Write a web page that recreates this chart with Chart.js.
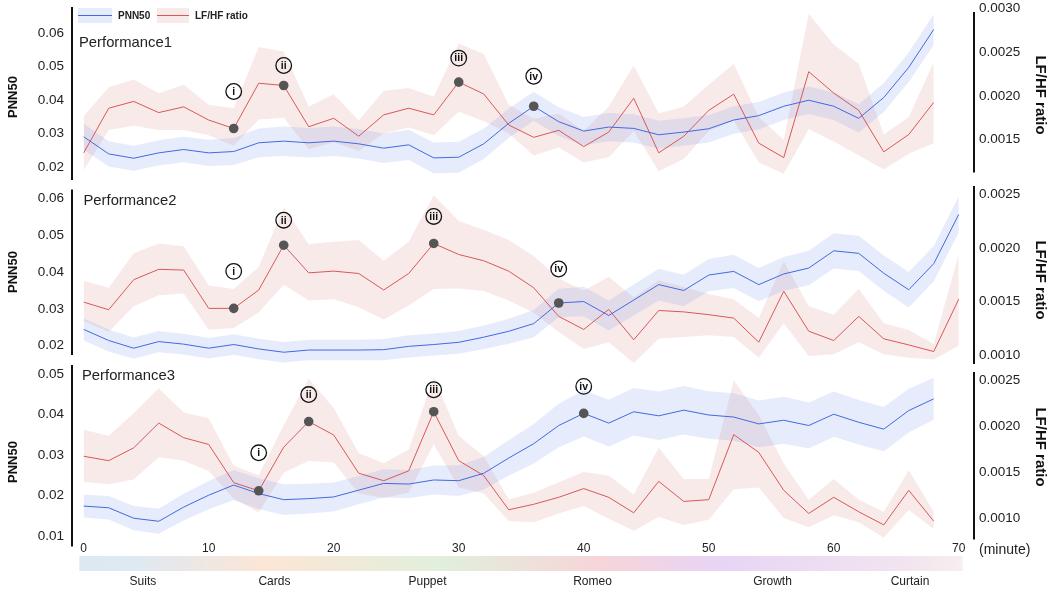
<!DOCTYPE html>
<html>
<head>
<meta charset="utf-8">
<script src="https://cdn.jsdelivr.net/npm/chart.js@4.4.1/dist/chart.umd.min.js"></script>
<style>
  body { margin: 0; background: #fff; }
  #wrap { position: relative; width: 1061px; height: 592px; }
  #wrap canvas { position: absolute; left: 0; }
</style>
</head>
<body>
<div id="wrap">
  <canvas id="p1" width="1061" height="183" style="top:0;width:1061px;height:183px"></canvas>
  <canvas id="p2" width="1061" height="182" style="top:183px;width:1061px;height:182px"></canvas>
  <canvas id="p3" width="1061" height="227" style="top:365px;width:1061px;height:227px"></canvas>
</div>
<script>
// time axis (minutes), one sample every 2 min
const minutes = [0,2,4,6,8,10,12,14,16,18,20,22,24,26,28,30,32,34,36,38,40,42,44,46,48,50,52,54,56,58,60,62,64,66,68,70];
const xTicks = [0,10,20,30,40,50,60,70];

// Performance1
const p1Pnn = [0.0291,0.0240,0.0227,0.0243,0.0253,0.0243,0.0247,0.0273,0.0278,0.0273,0.0278,0.0270,0.0257,0.0267,0.0228,0.0230,0.0270,0.0331,0.0382,0.0336,0.0308,0.0320,0.0316,0.0297,0.0305,0.0315,0.0341,0.0354,0.0382,0.0400,0.0382,0.0346,0.0408,0.0498,0.0611];
const p1PnnCi = [0.0039,0.0038,0.0037,0.0038,0.0038,0.0039,0.0040,0.0043,0.0044,0.0044,0.0044,0.0044,0.0044,0.0045,0.0046,0.0046,0.0045,0.0044,0.0043,0.0043,0.0042,0.0042,0.0042,0.0042,0.0041,0.0041,0.0041,0.0041,0.0041,0.0041,0.0041,0.0042,0.0043,0.0044,0.0046];
const p1Lf = [0.00135,0.00186,0.001938,0.00181,0.001876,0.001725,0.001628,0.002146,0.00212,0.001648,0.001745,0.00154,0.001784,0.00186,0.001784,0.002159,0.002023,0.001668,0.001527,0.001607,0.001421,0.001587,0.001974,0.00135,0.001539,0.001835,0.002021,0.001461,0.001295,0.002278,0.002033,0.001835,0.001361,0.001559,0.001927];
const p1LfHigh = [0.00177,0.0021,0.00219,0.00203,0.00213,0.0019,0.00186,0.00256,0.00251,0.00188,0.00202,0.00172,0.00206,0.00209,0.00199,0.0026,0.00248,0.0019,0.00174,0.0018,0.0016,0.00188,0.00235,0.0018,0.00188,0.00213,0.00237,0.00176,0.0015,0.00294,0.00259,0.00237,0.00156,0.00176,0.00239];
const p1LfLow = [0.00115,0.00161,0.00166,0.00161,0.00161,0.00155,0.00143,0.00173,0.00175,0.00139,0.00147,0.00137,0.00157,0.00164,0.00155,0.00182,0.00171,0.00157,0.00132,0.00141,0.00124,0.0013,0.0016,0.00114,0.00128,0.0016,0.00172,0.00124,0.00111,0.00162,0.00148,0.00132,0.00116,0.00134,0.00146];
const p1MarkIdx = [6, 8, 15, 18];

// Performance2
const p2Pnn = [0.0244,0.0214,0.0193,0.0211,0.0204,0.0193,0.0203,0.0191,0.0182,0.0188,0.0188,0.0188,0.0189,0.0198,0.0203,0.0209,0.0223,0.0239,0.0260,0.0316,0.0320,0.0282,0.0324,0.0366,0.0350,0.0392,0.0402,0.0366,0.0395,0.0411,0.0458,0.0451,0.0397,0.0352,0.0423,0.0557];
const p2PnnCi = [0.0030,0.0030,0.0029,0.0029,0.0028,0.0028,0.0028,0.0028,0.0028,0.0028,0.0028,0.0028,0.0029,0.0030,0.0030,0.0031,0.0032,0.0034,0.0037,0.0039,0.0040,0.0041,0.0042,0.0043,0.0043,0.0044,0.0045,0.0045,0.0046,0.0047,0.0048,0.0048,0.0048,0.0048,0.0048,0.0049];
const p2Lf = [0.001496,0.001425,0.001705,0.001802,0.001795,0.001438,0.001438,0.001609,0.002027,0.001769,0.001785,0.001763,0.001609,0.001763,0.002043,0.00194,0.001882,0.001785,0.00163,0.001363,0.001241,0.001428,0.001145,0.001418,0.001405,0.001379,0.001347,0.001122,0.001598,0.001225,0.001138,0.001363,0.001154,0.001097,0.001035,0.001524];
const p2LfHigh = [0.001696,0.001631,0.001952,0.002043,0.002017,0.00165,0.001618,0.001824,0.002381,0.002036,0.002059,0.002075,0.001882,0.002059,0.002493,0.002252,0.002172,0.002075,0.001927,0.001717,0.001604,0.001733,0.00154,0.001701,0.001637,0.001572,0.001524,0.001347,0.001878,0.001459,0.001379,0.001621,0.0013,0.001235,0.001106,0.001942];
const p2LfLow = [0.00132,0.00122,0.001457,0.00156,0.001576,0.001238,0.001255,0.001399,0.001657,0.001512,0.001522,0.001448,0.001335,0.001464,0.001618,0.001624,0.001599,0.001512,0.001396,0.001218,0.001058,0.001122,0.000929,0.001154,0.00117,0.001186,0.00117,0.000977,0.0013,0.000993,0.00101,0.001122,0.00101,0.000977,0.000961,0.00109];
const p2MarkIdx = [6, 8, 14, 19];

// Performance3
const p3Pnn = [0.01736,0.01694,0.01435,0.01359,0.01711,0.02005,0.02256,0.02045,0.01894,0.0192,0.01962,0.0213,0.02297,0.02281,0.02382,0.02364,0.02548,0.02925,0.0328,0.0373,0.0403,0.0379,0.0407,0.0397,0.0411,0.0399,0.0394,0.0377,0.0386,0.0373,0.0401,0.0381,0.0364,0.0410,0.0439];
const p3PnnCi = [0.0028,0.0029,0.0030,0.0031,0.0033,0.0035,0.0037,0.0038,0.0038,0.0037,0.0036,0.0035,0.0035,0.0035,0.0036,0.0038,0.0040,0.0044,0.0049,0.0054,0.0057,0.0058,0.0059,0.0060,0.0060,0.0059,0.0059,0.0058,0.0058,0.0057,0.0056,0.0055,0.0055,0.0054,0.0052];
const p3Lf = [0.001674,0.001626,0.001766,0.002036,0.001876,0.001803,0.001386,0.001297,0.001773,0.002053,0.001906,0.001489,0.001407,0.001515,0.00216,0.001626,0.001463,0.00109,0.00115,0.001226,0.001321,0.001226,0.001057,0.0014,0.001181,0.0012,0.00191,0.001717,0.001302,0.00105,0.001226,0.001068,0.000925,0.001302,0.000966];
const p3LfHigh = [0.001963,0.001899,0.002144,0.002416,0.002151,0.002088,0.001571,0.001466,0.002012,0.002521,0.002201,0.00171,0.001597,0.001748,0.00254,0.001899,0.001673,0.001201,0.001276,0.001389,0.001502,0.001464,0.001257,0.001766,0.001426,0.001426,0.002501,0.002124,0.001596,0.0012,0.001426,0.0012,0.001068,0.00152,0.001068];
const p3LfLow = [0.001392,0.001369,0.001419,0.001663,0.001626,0.001513,0.001211,0.001061,0.001494,0.001626,0.001607,0.001268,0.001219,0.001279,0.001805,0.001332,0.001268,0.000967,0.000955,0.00105,0.001132,0.000993,0.000861,0.001011,0.000925,0.000982,0.001313,0.001332,0.001,0.000898,0.001031,0.000955,0.000785,0.001087,0.00088];
const p3MarkIdx = [7, 9, 14, 20];

// markers: first three sit on LF/HF, the last on PNN50
const markLabels = ['i', 'ii', 'iii', 'iv'];
const markOn = ['lf', 'lf', 'lf', 'pnn'];

// axis ticks
const pnnTicksA = [0.02, 0.03, 0.04, 0.05, 0.06];
const pnnTicksB = [0.01, 0.02, 0.03, 0.04, 0.05];
const lfTicksA = [0.0015, 0.0020, 0.0025, 0.0030];
const lfTicksB = [0.0010, 0.0015, 0.0020, 0.0025];

// scenes under the time axis
const sceneNames = ['Suits', 'Cards', 'Puppet', 'Romeo', 'Growth', 'Curtain'];
const sceneAt = [4.74, 15.26, 27.5, 40.7, 55.1, 66.1];
const barStops = [-0.35, 3.7, 14.5, 28.5, 41.3, 50.7, 65.3, 70.3];
const barColors = ['#dde9f2', '#dde9f3', '#fce6d6', '#e1efdc', '#f7d5d9', '#e8d4f5', '#f1e4f0', '#f7eeee'];

const BLUE = '#4169e1';
const BLUE_BAND = 'rgba(65,105,225,0.13)';
const RED = '#d95757';
const RED_BAND = 'rgba(205,92,92,0.13)';
const FONT = 'Arial, "Liberation Sans", sans-serif';
const X_MIN = -0.936, X_MAX = 71.22;

Chart.defaults.font.family = FONT;
Chart.defaults.color = '#222';

const panels = [
  { id: 'p1', name: 'Performance1', pnn: p1Pnn, ci: p1PnnCi, lf: p1Lf, hi: p1LfHigh, lo: p1LfLow, marks: p1MarkIdx,
    yRange: [0.01621, 0.0678], y1Range: [0.001039, 0.003018], yTicks: pnnTicksA, y1Ticks: lfTicksA,
    spineL: [0.0678, 0.01621], spineR: [0.00296, 0.001125],
    pad: { top: 7, bottom: 3 }, nameAt: [79, 43], titleL: 97, titleR: 95, labelGap: [37, 20, 24, 30],
    legend: true, showX: false },
  { id: 'p2', name: 'Performance2', pnn: p2Pnn, ci: p2PnnCi, lf: p2Lf, hi: p2LfHigh, lo: p2LfLow, marks: p2MarkIdx,
    yRange: [0.0150, 0.06343], y1Range: [0.000919, 0.002579], yTicks: pnnTicksA, y1Ticks: lfTicksB,
    spineL: [0.06248, 0.01744], spineR: [0.002579, 0.000919],
    pad: { top: 3, bottom: 1 }, nameAt: [83.5, 18], titleL: 89, titleR: 97, labelGap: [37, 25, 27, 34],
    legend: false, showX: false },
  { id: 'p3', name: 'Performance3', pnn: p3Pnn, ci: p3PnnCi, lf: p3Lf, hi: p3LfHigh, lo: p3LfLow, marks: p3MarkIdx,
    yRange: [0.00896, 0.05228], y1Range: [0.00076, 0.00267], yTicks: pnnTicksB, y1Ticks: lfTicksB,
    spineL: [0.05228, 0.00733], spineR: [0.002594, 0.000766],
    pad: { top: 0, bottom: 0 }, nameAt: [82, 10.5], titleL: 97, titleR: 82, labelGap: [38, 27, 22, 27],
    legend: false, showX: true }
];

function pts(arr) {
  return arr.map((v, i) => ({ x: minutes[i], y: v }));
}

function overlay(p) {
  return {
    id: 'overlay',
    afterDatasetsDraw(chart) {
      const { ctx, chartArea: a, scales } = chart;
      ctx.save();
      // spines
      ctx.strokeStyle = '#111';
      ctx.lineWidth = 2;
      ctx.beginPath();
      ctx.moveTo(a.left, scales.y.getPixelForValue(p.spineL[0]));
      ctx.lineTo(a.left, scales.y.getPixelForValue(p.spineL[1]));
      ctx.moveTo(a.right, scales.y1.getPixelForValue(p.spineR[0]));
      ctx.lineTo(a.right, scales.y1.getPixelForValue(p.spineR[1]));
      ctx.stroke();

      // marker dots and circled numerals
      p.marks.forEach((idx, k) => {
        const onLf = markOn[k] === 'lf';
        const px = scales.x.getPixelForValue(minutes[idx]);
        const py = onLf ? scales.y1.getPixelForValue(p.lf[idx]) : scales.y.getPixelForValue(p.pnn[idx]);
        ctx.fillStyle = '#555';
        ctx.beginPath();
        ctx.arc(px, py, 4.8, 0, Math.PI * 2);
        ctx.fill();
        const ly = py - p.labelGap[k];
        ctx.strokeStyle = '#111';
        ctx.lineWidth = 1.3;
        ctx.beginPath();
        ctx.arc(px, ly, 7.8, 0, Math.PI * 2);
        ctx.stroke();
        ctx.fillStyle = '#111';
        ctx.font = 'bold 10.5px ' + FONT;
        ctx.textAlign = 'center';
        ctx.textBaseline = 'middle';
        ctx.fillText(markLabels[k], px, ly + 0.5);
      });

      // panel name
      ctx.fillStyle = '#222';
      ctx.font = '14.8px ' + FONT;
      ctx.textAlign = 'left';
      ctx.textBaseline = 'middle';
      ctx.fillText(p.name, p.nameAt[0], p.nameAt[1]);

      // axis titles
      ctx.fillStyle = '#111';
      ctx.textAlign = 'center';
      ctx.save();
      ctx.translate(13.5, p.titleL);
      ctx.rotate(-Math.PI / 2);
      ctx.font = 'bold 13px ' + FONT;
      ctx.fillText('PNN50', 0, 0);
      ctx.restore();
      ctx.save();
      ctx.translate(1040, p.titleR);
      ctx.rotate(Math.PI / 2);
      ctx.font = 'bold 15px ' + FONT;
      ctx.fillText('LF/HF ratio', 0, 0);
      ctx.restore();

      if (p.legend) {
        ctx.font = '600 10px ' + FONT;
        ctx.textAlign = 'left';
        ctx.fillStyle = BLUE_BAND;
        ctx.fillRect(78, 8, 34, 15);
        ctx.fillStyle = RED_BAND;
        ctx.fillRect(157, 8, 32, 15);
        ctx.lineWidth = 1;
        ctx.strokeStyle = BLUE;
        ctx.beginPath(); ctx.moveTo(78, 15.5); ctx.lineTo(112, 15.5); ctx.stroke();
        ctx.strokeStyle = RED;
        ctx.beginPath(); ctx.moveTo(157, 15.5); ctx.lineTo(189, 15.5); ctx.stroke();
        ctx.fillStyle = '#222';
        ctx.fillText('PNN50', 118, 16);
        ctx.fillText('LF/HF ratio', 195, 16);
      }

      if (p.showX) {
        const x = scales.x;
        const top = a.bottom + 16;
        const x0 = x.getPixelForValue(barStops[0]);
        const x1 = x.getPixelForValue(barStops[barStops.length - 1]);
        const g = ctx.createLinearGradient(x0, 0, x1, 0);
        barStops.forEach((m, i) => g.addColorStop((m - barStops[0]) / (barStops[barStops.length - 1] - barStops[0]), barColors[i]));
        ctx.fillStyle = g;
        ctx.fillRect(x0, top, x1 - x0, 15);
        ctx.fillStyle = '#222';
        ctx.font = '12px ' + FONT;
        ctx.textAlign = 'center';
        sceneNames.forEach((s, i) => ctx.fillText(s, x.getPixelForValue(sceneAt[i]), top + 26));
        ctx.font = '14px ' + FONT;
        ctx.textAlign = 'left';
        ctx.fillText('(minute)', a.right + 5, a.bottom + 10);
      }
      ctx.restore();
    }
  };
}

panels.forEach(p => {
  const pnnLow = p.pnn.map((v, i) => v - p.ci[i]);
  const pnnHigh = p.pnn.map((v, i) => v + p.ci[i]);
  const hidden = { borderColor: 'rgba(0,0,0,0)', borderWidth: 0, pointRadius: 0 };
  new Chart(document.getElementById(p.id), {
    type: 'line',
    data: {
      datasets: [
        { label: 'PNN50', data: pts(p.pnn), yAxisID: 'y', borderColor: BLUE, borderWidth: 1, pointRadius: 0, fill: false },
        { label: 'LF/HF ratio', data: pts(p.lf), yAxisID: 'y1', borderColor: RED, borderWidth: 1, pointRadius: 0, fill: false },
        Object.assign({ data: pts(pnnLow), yAxisID: 'y', fill: false }, hidden),
        Object.assign({ data: pts(pnnHigh), yAxisID: 'y', fill: '-1', backgroundColor: BLUE_BAND }, hidden),
        Object.assign({ data: pts(p.lo), yAxisID: 'y1', fill: false }, hidden),
        Object.assign({ data: pts(p.hi), yAxisID: 'y1', fill: '-1', backgroundColor: RED_BAND }, hidden)
      ]
    },
    options: {
      responsive: false,
      animation: false,
      events: [],
      layout: { autoPadding: false, padding: { left: 0, right: 0, top: p.pad.top, bottom: p.pad.bottom } },
      plugins: { legend: { display: false }, tooltip: { enabled: false } },
      scales: {
        x: {
          type: 'linear', min: X_MIN, max: X_MAX, display: p.showX,
          grid: { display: false, drawTicks: false }, border: { display: false },
          ticks: { font: { size: 12 }, color: '#222', padding: 1, maxRotation: 0, autoSkip: false },
          afterBuildTicks: s => { s.ticks = xTicks.map(v => ({ value: v })); },
          afterFit: s => { s.height = p.showX ? 52 : 0; s.paddingLeft = 0; s.paddingRight = 0; }
        },
        y: {
          position: 'left', min: p.yRange[0], max: p.yRange[1],
          grid: { display: false, drawTicks: false }, border: { display: false },
          ticks: { font: { size: 13.5 }, color: '#222', padding: 8, callback: v => v.toFixed(2) },
          afterBuildTicks: s => { s.ticks = p.yTicks.map(v => ({ value: v })); },
          afterFit: s => { s.width = 72; s.paddingTop = 0; s.paddingBottom = 0; }
        },
        y1: {
          position: 'right', min: p.y1Range[0], max: p.y1Range[1],
          grid: { display: false, drawTicks: false }, border: { display: false },
          ticks: { font: { size: 13.5 }, color: '#222', padding: 5, callback: v => v.toFixed(4) },
          afterBuildTicks: s => { s.ticks = p.y1Ticks.map(v => ({ value: v })); },
          afterFit: s => { s.width = 87; s.paddingTop = 0; s.paddingBottom = 0; }
        }
      }
    },
    plugins: [overlay(p)]
  });
});
</script>
</body>
</html>
